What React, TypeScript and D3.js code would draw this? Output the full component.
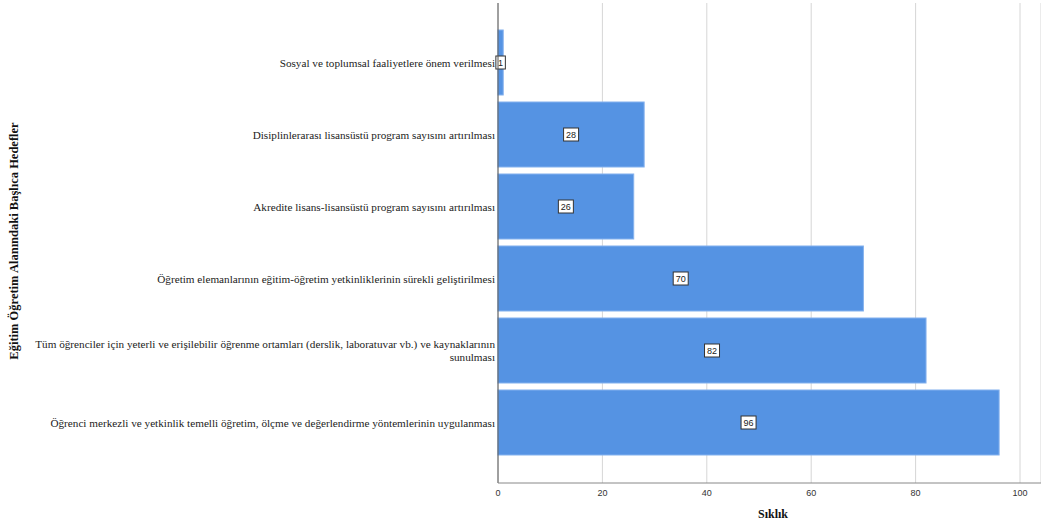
import React from "react";
import * as d3 from "d3";

const categories = [
  "Sosyal ve toplumsal faaliyetlere önem verilmesi",
  "Disiplinlerarası lisansüstü program sayısını artırılması",
  "Akredite lisans-lisansüstü program sayısını artırılması",
  "Öğretim elemanlarının eğitim-öğretim yetkinliklerinin sürekli geliştirilmesi",
  "Tüm öğrenciler için yeterli ve erişilebilir öğrenme ortamları (derslik, laboratuvar vb.) ve kaynaklarının|sunulması",
  "Öğrenci merkezli ve yetkinlik temelli öğretim, ölçme ve değerlendirme yöntemlerinin uygulanması",
];
const values = [1, 28, 26, 70, 82, 96];
const xTicks = [0, 20, 40, 60, 80, 100];
const yTitle = "Eğitim Öğretim Alanındaki Başlıca Hedefler";
const xTitle = "Sıklık";

export default function App() {
  const W = 1041, H = 527;
  const x0 = 498, x1 = 1020;
  const top = 3, bottom = 483;
  const x = d3.scaleLinear().domain([0, 100]).range([x0, x1]);
  const y = d3
    .scaleBand<string>()
    .domain(categories)
    .range([26.5, 458.5])
    .paddingInner(0.097)
    .paddingOuter(0.0485);
  const serif = "'Liberation Serif', 'Times New Roman', serif";
  const sans = "'Liberation Sans', Arial, sans-serif";
  return (
    <svg width={W} height={H} style={{ position: "absolute", left: 0, top: 0, background: "#fff" }}>
      {xTicks.map((t) => (
        <line key={"g" + t} x1={x(t)} x2={x(t)} y1={top} y2={bottom} stroke="#d6d6d6" strokeWidth={1} />
      ))}
      <line x1={1041} x2={1041} y1={top} y2={bottom} stroke="#d6d6d6" />
      {categories.map((c, i) => {
        const yy = y(c)!;
        const bw = y.bandwidth();
        const v = values[i];
        const cy = yy + bw / 2;
        const lines = c.split("|");
        const lbl = String(v);
        const bx = x(v / 2);
        const boxW = lbl.length * 5.5 + 4;
        return (
          <g key={c}>
            <rect x={x(0)} y={yy} width={x(v) - x(0)} height={bw} fill="#5593e3" stroke="#86b2ee" strokeWidth={1} />
            <rect x={bx - boxW / 2} y={cy - 6.5} width={boxW} height={13} fill="#fff" stroke="#333" strokeWidth={1} />
            <text x={bx} y={cy + 3.5} textAnchor="middle" fontFamily={sans} fontSize={9} fill="#222">{lbl}</text>
            {lines.map((l, k) => (
              <text key={k} x={x0 - 3} y={cy + 4 + (k - (lines.length - 1) / 2) * 13} textAnchor="end" fontFamily={serif} fontSize={11.2} fill="#222">
                {l}
              </text>
            ))}
          </g>
        );
      })}
      <line x1={x0} x2={x0} y1={top} y2={bottom} stroke="#555" strokeWidth={1} />
      <line x1={x0} x2={1041} y1={bottom} y2={bottom} stroke="#888" strokeWidth={1} />
      {xTicks.map((t) => (
        <text key={"t" + t} x={x(t)} y={496} textAnchor="middle" fontFamily={sans} fontSize={9} fill="#333">{t}</text>
      ))}
      <text x={773} y={518} textAnchor="middle" fontFamily={serif} fontWeight="bold" fontSize={12} fill="#111">{xTitle}</text>
      <text transform={`translate(18,${241}) rotate(-90)`} textAnchor="middle" fontFamily={serif} fontWeight="bold" fontSize={12.5} fill="#111">{yTitle}</text>
    </svg>
  );
}
